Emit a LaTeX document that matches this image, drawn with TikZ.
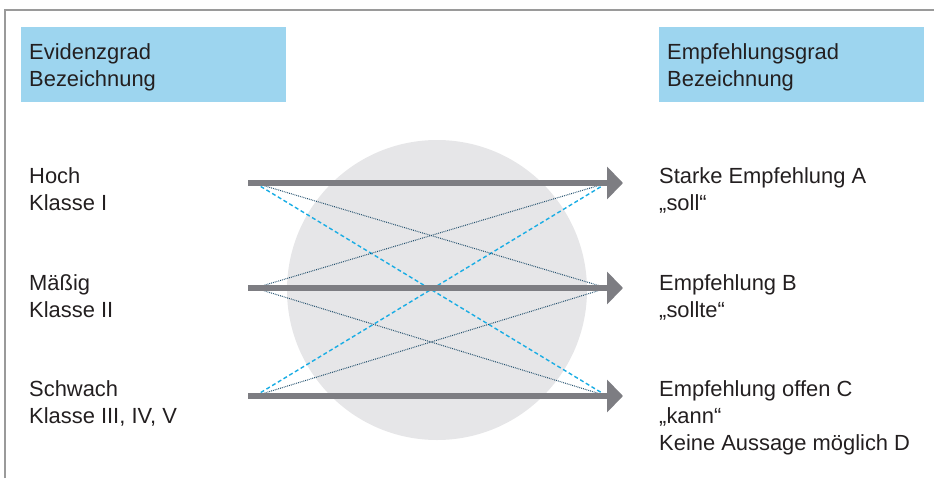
\documentclass[tikz,border=0pt]{standalone}
\usepackage{fontspec}
\setmainfont{Liberation Sans}
\usepackage{xcolor}
\definecolor{hdrblue}{RGB}{157,213,239}
\definecolor{discgray}{RGB}{230,230,232}
\definecolor{arrgray}{RGB}{125,125,130}
\definecolor{linkblue}{RGB}{26,173,228}
\definecolor{linknavy}{RGB}{31,77,107}
\definecolor{txtgray}{RGB}{35,31,32}
\definecolor{framegray}{RGB}{154,154,154}
\usetikzlibrary{arrows.meta,positioning}

\tikzset{
  hdrbox/.style={fill=hdrblue,draw=none},
  % base anchor sits on the last line of a multi-line label
  lbl/.style={anchor=base west,align=left,inner sep=0pt,text=txtgray,
    font=\fontsize{18.7}{22.8}\selectfont},
  gradearrow/.style={arrgray,line width=0.18cm,
    -{Triangle[length=0.48cm,width=0.96cm]}},
  linkdash/.style={linkblue,line width=1.2pt,dash pattern=on 0.12cm off 0.08cm},
  linkdot/.style={linknavy,line width=0.9pt,dash pattern=on 0.7pt off 0.9pt},
}

\begin{document}
\begin{tikzpicture}[x=0.03cm,y=-0.03cm]
\useasboundingbox (0,0) rectangle (934,478);
% frame
\draw[framegray,line width=1.6pt] (5,478) -- (5,10) -- (934,10);
% background disc
\fill[discgray] (437,290) circle (150);
% header boxes
\fill[hdrbox] (21,27) rectangle (286,102);
\fill[hdrbox] (659,27) rectangle (924,102);
\node[lbl] (evhdr) at (29,86) {Evidenzgrad\\Bezeichnung};
\node[lbl] (emhdr) at (667,86) {Empfehlungsgrad\\Bezeichnung};
% evidence levels
\node[lbl] (ev1) at (29,210) {Hoch\\Klasse I};
\node[lbl] (ev2) at (29,317) {Mäßig\\Klasse II};
\node[lbl] (ev3) at (29,423) {Schwach\\Klasse III, IV, V};
% recommendation grades
\node[lbl] (em1) at (659,210) {Starke Empfehlung A\\„soll“};
\node[lbl] (em2) at (659,317) {Empfehlung B\\„sollte“};
\node[lbl] (em3) at (659,450) {Empfehlung offen C\\„kann“\\Keine Aussage möglich D};
% arrow ends
\foreach \i/\y in {1/183,2/288,3/396} {
  \coordinate (a\i) at (248,\y);
  \coordinate (s\i) at (255,\y);
  \coordinate (e\i) at (607,\y);
  \coordinate (t\i) at (623,\y);
}
% cross links
\draw[linkdash] (s1) -- (e3);
\draw[linkdash] (s3) -- (e1);
\draw[linkdot] (s1) -- (e2);
\draw[linkdot] (s2) -- (e1);
\draw[linkdot] (s2) -- (e3);
\draw[linkdot] (s3) -- (e2);
% main arrows
\foreach \i in {1,2,3}
  \draw[gradearrow] (a\i) -- (t\i);
\end{tikzpicture}
\end{document}
